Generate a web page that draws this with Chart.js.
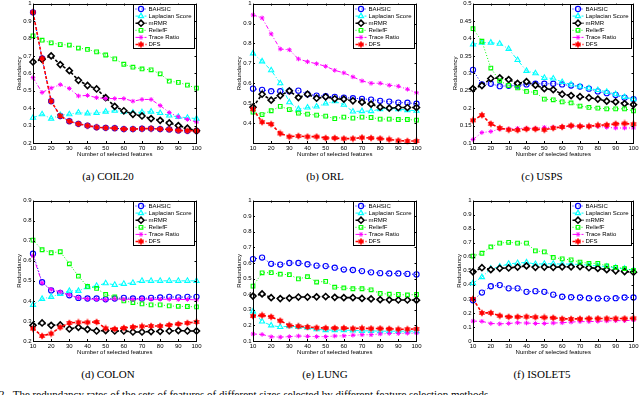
<!DOCTYPE html>
<html>
<head>
<meta charset="utf-8">
<script src="https://cdn.jsdelivr.net/npm/chart.js@4.4.1/dist/chart.umd.min.js"></script>
<style>
html, body { margin:0; padding:0; background:#fff; width:640px; height:395px; overflow:hidden; position:relative; }
canvas { position:absolute; }
.cap { position:absolute; font-family:"Liberation Serif","Times New Roman",serif; font-size:11px; line-height:12px; color:#000; white-space:nowrap; transform:translateX(-50%); }
.foot { position:absolute; left:-1px; top:388px; font-family:"Liberation Serif","Times New Roman",serif; font-size:11px; line-height:12px; white-space:nowrap; }
</style>
</head>
<body>
<div class="foot">2.&nbsp;&nbsp;The redundancy rates of the sets of features of different sizes selected by different feature selection methods.</div>
<script>
// number of selected features (x axis)
const sizes = [10,15,20,25,30,35,40,45,50,55,60,65,70,75,80,85,90,95,100];
const methods = ['BAHSIC','Laplacian Score','mRMR','ReliefF','Trace Ratio','DFS'];

// (a) COIL20
const coilBahsic    = [0.95,0.685,0.44,0.355,0.325,0.31,0.30,0.29,0.287,0.285,0.28,0.28,0.282,0.283,0.28,0.278,0.272,0.27,0.27];
const coilLaplacian = [0.345,0.365,0.34,0.36,0.365,0.375,0.37,0.372,0.38,0.385,0.38,0.375,0.377,0.38,0.372,0.358,0.35,0.345,0.34];
const coilMrmr      = [0.665,0.68,0.70,0.65,0.615,0.56,0.53,0.51,0.46,0.41,0.385,0.365,0.355,0.34,0.33,0.315,0.30,0.285,0.27];
const coilRelief    = [0.815,0.79,0.775,0.765,0.762,0.745,0.737,0.723,0.705,0.683,0.652,0.635,0.625,0.62,0.597,0.555,0.548,0.532,0.515];
const coilTrace     = [0.575,0.49,0.515,0.535,0.513,0.47,0.473,0.46,0.455,0.455,0.455,0.44,0.45,0.45,0.415,0.375,0.35,0.335,0.32];
const coilDfs       = [0.95,0.685,0.44,0.355,0.325,0.31,0.30,0.29,0.287,0.285,0.28,0.28,0.282,0.283,0.28,0.278,0.272,0.27,0.27];

// (b) ORL
const orlBahsic    = [0.573,0.567,0.56,0.56,0.56,0.563,0.545,0.538,0.535,0.532,0.528,0.525,0.522,0.518,0.512,0.508,0.503,0.502,0.497];
const orlLaplacian = [0.75,0.71,0.665,0.60,0.505,0.47,0.478,0.483,0.498,0.51,0.492,0.458,0.46,0.46,0.47,0.475,0.47,0.465,0.462];
const orlMrmr      = [0.48,0.545,0.515,0.538,0.562,0.528,0.545,0.525,0.532,0.522,0.52,0.512,0.505,0.495,0.48,0.475,0.478,0.478,0.478];
const orlRelief    = [0.455,0.443,0.462,0.484,0.468,0.45,0.445,0.44,0.435,0.422,0.43,0.425,0.43,0.428,0.42,0.42,0.418,0.418,0.415];
const orlTrace     = [0.943,0.928,0.848,0.772,0.768,0.722,0.708,0.698,0.685,0.665,0.652,0.632,0.612,0.60,0.60,0.59,0.585,0.57,0.552];
const orlDfs       = [0.47,0.405,0.395,0.348,0.332,0.335,0.332,0.332,0.325,0.325,0.322,0.322,0.327,0.325,0.322,0.318,0.312,0.31,0.31];

// (c) USPS
const uspsBahsic    = [0.31,0.268,0.27,0.263,0.264,0.265,0.268,0.27,0.27,0.27,0.268,0.265,0.262,0.256,0.248,0.243,0.238,0.23,0.226];
const uspsLaplacian = [0.383,0.388,0.388,0.385,0.37,0.338,0.307,0.30,0.287,0.285,0.275,0.268,0.262,0.257,0.252,0.247,0.24,0.232,0.226];
const uspsMrmr      = [0.256,0.265,0.285,0.287,0.282,0.271,0.276,0.266,0.256,0.253,0.24,0.236,0.233,0.23,0.226,0.22,0.218,0.213,0.21];
const uspsRelief    = [0.428,0.392,0.315,0.278,0.265,0.258,0.248,0.245,0.226,0.224,0.218,0.215,0.206,0.202,0.20,0.198,0.198,0.198,0.192];
const uspsTrace     = [0.11,0.13,0.133,0.14,0.14,0.142,0.142,0.142,0.145,0.145,0.146,0.148,0.148,0.148,0.148,0.145,0.143,0.143,0.143];
const uspsDfs       = [0.165,0.18,0.155,0.143,0.138,0.137,0.14,0.14,0.138,0.143,0.146,0.15,0.148,0.148,0.151,0.152,0.155,0.156,0.154];

// (d) COLON
const colonBahsic    = [0.635,0.493,0.452,0.44,0.428,0.415,0.412,0.412,0.408,0.412,0.415,0.412,0.412,0.415,0.417,0.42,0.418,0.42,0.42];
const colonLaplacian = [0.38,0.41,0.42,0.435,0.45,0.45,0.468,0.475,0.488,0.48,0.485,0.49,0.50,0.50,0.50,0.50,0.50,0.50,0.50];
const colonMrmr      = [0.278,0.29,0.278,0.28,0.26,0.268,0.258,0.25,0.252,0.25,0.25,0.245,0.245,0.247,0.248,0.25,0.252,0.25,0.25];
const colonRelief    = [0.703,0.655,0.64,0.645,0.585,0.523,0.472,0.462,0.432,0.42,0.40,0.392,0.385,0.38,0.38,0.375,0.373,0.372,0.37];
const colonTrace     = [0.625,0.49,0.457,0.445,0.43,0.415,0.41,0.408,0.405,0.41,0.408,0.408,0.41,0.408,0.408,0.408,0.407,0.407,0.405];
const colonDfs       = [0.262,0.225,0.237,0.268,0.29,0.293,0.293,0.295,0.263,0.26,0.265,0.27,0.273,0.275,0.275,0.28,0.285,0.29,0.295];

// (e) LUNG
const lungBahsic    = [0.625,0.635,0.595,0.59,0.60,0.60,0.592,0.583,0.58,0.57,0.558,0.555,0.548,0.54,0.535,0.533,0.533,0.53,0.527];
const lungLaplacian = [0.29,0.225,0.20,0.19,0.195,0.19,0.185,0.175,0.17,0.17,0.17,0.168,0.165,0.165,0.163,0.163,0.163,0.163,0.163];
const lungMrmr      = [0.388,0.402,0.378,0.372,0.375,0.382,0.382,0.383,0.385,0.38,0.378,0.378,0.373,0.37,0.365,0.364,0.363,0.363,0.362];
const lungRelief    = [0.452,0.537,0.538,0.528,0.525,0.498,0.512,0.478,0.482,0.445,0.44,0.435,0.435,0.428,0.405,0.40,0.398,0.395,0.398];
const lungTrace     = [0.145,0.142,0.127,0.125,0.128,0.132,0.13,0.128,0.128,0.132,0.133,0.137,0.14,0.14,0.145,0.148,0.148,0.15,0.15];
const lungDfs       = [0.26,0.265,0.255,0.23,0.20,0.195,0.19,0.185,0.183,0.183,0.183,0.18,0.182,0.18,0.18,0.178,0.175,0.176,0.177];

// (f) ISOLET5
const isoBahsic    = [0.29,0.345,0.39,0.398,0.375,0.375,0.35,0.355,0.35,0.33,0.315,0.312,0.31,0.305,0.303,0.302,0.305,0.31,0.31];
const isoLaplacian = [0.412,0.455,0.515,0.53,0.55,0.555,0.56,0.548,0.55,0.55,0.548,0.548,0.545,0.54,0.535,0.53,0.522,0.515,0.505];
const isoMrmr      = [0.493,0.522,0.508,0.518,0.52,0.527,0.535,0.525,0.527,0.525,0.528,0.528,0.53,0.522,0.517,0.508,0.50,0.495,0.49];
const isoRelief    = [0.605,0.625,0.67,0.697,0.703,0.697,0.697,0.642,0.635,0.595,0.585,0.578,0.562,0.553,0.553,0.535,0.525,0.515,0.503];
const isoTrace     = [0.142,0.14,0.125,0.122,0.125,0.13,0.128,0.125,0.125,0.128,0.13,0.135,0.138,0.138,0.14,0.143,0.145,0.145,0.148];
const isoDfs       = [0.30,0.20,0.20,0.18,0.172,0.172,0.173,0.17,0.168,0.165,0.158,0.157,0.158,0.16,0.16,0.16,0.16,0.16,0.162];

// y axis ranges [min, max, step]
const coilY = [0.2, 1, 0.1];
const orlY = [0.3, 1, 0.1];
const uspsY = [0.1, 0.5, 0.05];
const colonY = [0.2, 0.9, 0.1];
const lungY = [0.1, 1, 0.1];
const isoY = [0, 1, 0.1];

Chart.defaults.font.family = '"Liberation Sans", Arial, Helvetica, sans-serif';
Chart.defaults.color = '#000';

// filled red hexagram marker like matlab 'h'
function hexagram(color, size) {
  const c = document.createElement('canvas');
  c.width = size; c.height = size;
  const g = c.getContext('2d');
  const cx = size / 2, cy = size / 2, r = size / 2 - 0.3;
  g.fillStyle = color;
  [-Math.PI / 2, Math.PI / 2].forEach(rot => {
    g.beginPath();
    for (let k = 0; k < 3; k++) {
      const a = rot + k * 2 * Math.PI / 3;
      const px = cx + r * Math.cos(a), py = cy + r * Math.sin(a);
      if (k === 0) g.moveTo(px, py); else g.lineTo(px, py);
    }
    g.closePath();
    g.fill();
  });
  return c;
}
const hexRed = hexagram('#ff0000', 8);

const styles = [
  { borderColor:'#0000ff', borderWidth:1,   borderDash:[1,2],     pointStyle:'circle',   pointRadius:2.6, pointBorderWidth:1.1, pointBackgroundColor:'rgba(0,0,0,0)' },
  { borderColor:'#00ffff', borderWidth:1,   borderDash:[4,2,1,2], pointStyle:'triangle', pointRadius:3,   pointBorderWidth:1.1, pointBackgroundColor:'rgba(0,0,0,0)' },
  { borderColor:'#000000', borderWidth:1.6, borderDash:[3,2],     pointStyle:'rectRot',  pointRadius:3,   pointBorderWidth:1.6, pointBackgroundColor:'#ffffff' },
  { borderColor:'#00ff00', borderWidth:1,   borderDash:[1,2],     pointStyle:'rect',     pointRadius:2.6, pointBorderWidth:1.1, pointBackgroundColor:'rgba(0,0,0,0)' },
  { borderColor:'#ff00ff', borderWidth:1,   borderDash:[4,2,1,2], pointStyle:'star',     pointRadius:2.3, pointBorderWidth:1,   pointBackgroundColor:'#ff00ff' },
  { borderColor:'#ff0000', borderWidth:1.6, borderDash:[3,2],     pointStyle:hexRed,     pointRadius:4,   pointBorderWidth:1,   pointBackgroundColor:'#ff0000' }
];

const panels = [
  { series:[coilBahsic,coilLaplacian,coilMrmr,coilRelief,coilTrace,coilDfs],         y:coilY,  l:33,  t:3,   r:197, b:143, yw:17, cap:'(a) COIL20',  cx:108 },
  { series:[orlBahsic,orlLaplacian,orlMrmr,orlRelief,orlTrace,orlDfs],               y:orlY,   l:253, t:3,   r:417, b:143, yw:17, cap:'(b) ORL',     cx:325, hideMin:true },
  { series:[uspsBahsic,uspsLaplacian,uspsMrmr,uspsRelief,uspsTrace,uspsDfs],         y:uspsY,  l:473, t:3,   r:634, b:143, yw:21, cap:'(c) USPS',    cx:542 },
  { series:[colonBahsic,colonLaplacian,colonMrmr,colonRelief,colonTrace,colonDfs],   y:colonY, l:33,  t:200, r:197, b:341, yw:17, cap:'(d) COLON',   cx:108 },
  { series:[lungBahsic,lungLaplacian,lungMrmr,lungRelief,lungTrace,lungDfs],         y:lungY,  l:253, t:200, r:417, b:341, yw:17, cap:'(e) LUNG',    cx:325 },
  { series:[isoBahsic,isoLaplacian,isoMrmr,isoRelief,isoTrace,isoDfs],               y:isoY,   l:473, t:200, r:634, b:341, yw:17, cap:'(f) ISOLET5', cx:542 }
];

// matlab style box with inward ticks, drawn over the lines
const boxAxes = {
  id: 'boxAxes',
  afterDatasetsDraw(chart) {
    const ctx = chart.ctx, a = chart.chartArea;
    const xs = chart.scales.x, ys = chart.scales.y;
    ctx.save();
    ctx.strokeStyle = '#000';
    ctx.lineWidth = 1;
    ctx.setLineDash([]);
    ctx.strokeRect(Math.round(a.left) + 0.5, Math.round(a.top) + 0.5, Math.round(a.right - a.left), Math.round(a.bottom - a.top));
    ctx.beginPath();
    xs.ticks.forEach(t => {
      const px = Math.round(xs.getPixelForValue(t.value)) + 0.5;
      ctx.moveTo(px, a.bottom); ctx.lineTo(px, a.bottom - 2);
      ctx.moveTo(px, a.top); ctx.lineTo(px, a.top + 2);
    });
    ys.ticks.forEach(t => {
      const py = Math.round(ys.getPixelForValue(t.value)) + 0.5;
      ctx.moveTo(a.left, py); ctx.lineTo(a.left + 2, py);
      ctx.moveTo(a.right, py); ctx.lineTo(a.right - 2, py);
    });
    ctx.stroke();
    ctx.restore();
  }
};

// legend box in the upper right corner of the axes
const boxLegend = {
  id: 'boxLegend',
  afterDraw(chart) {
    const ctx = chart.ctx, a = chart.chartArea;
    const ds = chart.data.datasets;
    ctx.save();
    ctx.font = '6px "Liberation Sans", Arial, sans-serif';
    const tw = Math.max(...ds.map(d => ctx.measureText(d.label).width));
    const w = Math.round(tw + 18), h = 44;
    const x0 = Math.round(a.right - 2 - w) + 0.5, y0 = Math.round(a.top) + 0.5;
    ctx.fillStyle = '#fff';
    ctx.fillRect(x0, y0, w, h);
    ctx.strokeStyle = '#000';
    ctx.lineWidth = 1;
    ctx.strokeRect(x0, y0, w, h);
    ds.forEach((d, i) => {
      const y = y0 + 4.5 + i * 7.1;
      ctx.save();
      ctx.strokeStyle = d.borderColor;
      ctx.lineWidth = d.borderWidth;
      ctx.setLineDash(d.borderDash);
      ctx.beginPath();
      ctx.moveTo(x0 + 2, y); ctx.lineTo(x0 + 13, y);
      ctx.stroke();
      ctx.setLineDash([]);
      ctx.strokeStyle = d.borderColor;
      ctx.fillStyle = d.pointBackgroundColor;
      ctx.lineWidth = d.pointBorderWidth;
      Chart.helpers.drawPoint(ctx, { pointStyle: d.pointStyle, radius: d.pointRadius, rotation: 0, borderWidth: d.pointBorderWidth }, x0 + 7.5, y);
      ctx.restore();
      ctx.fillStyle = '#000';
      ctx.textBaseline = 'middle';
      ctx.fillText(d.label, x0 + 15, y);
    });
    ctx.restore();
  }
};

panels.forEach(p => {
  const padTop = 5, padRight = 6, xh = 17;
  const cv = document.createElement('canvas');
  const W = (p.r - p.l) + p.yw + padRight, H = (p.b - p.t) + padTop + xh;
  cv.width = W; cv.height = H;
  cv.style.left = (p.l - p.yw) + 'px';
  cv.style.top = (p.t - padTop) + 'px';
  cv.style.width = W + 'px'; cv.style.height = H + 'px';
  document.body.appendChild(cv);

  const cap = document.createElement('div');
  cap.className = 'cap';
  cap.textContent = p.cap;
  cap.style.left = p.cx + 'px';
  cap.style.top = (p.b + 27) + 'px';
  document.body.appendChild(cap);

  const [yMin, yMax, yStep] = p.y;
  const datasets = p.series.map((vals, i) => Object.assign({
    label: methods[i],
    data: sizes.map((s, k) => ({ x: s, y: vals[k] })),
    fill: false,
    tension: 0,
    clip: false,
    order: 5 - i
  }, styles[i]));

  new Chart(cv.getContext('2d'), {
    type: 'line',
    data: { datasets },
    options: {
      responsive: false,
      devicePixelRatio: 1,
      animation: false,
      events: [],
      layout: { padding: { left: 0, top: padTop, right: padRight, bottom: 0 } },
      plugins: { legend: { display: false }, tooltip: { enabled: false } },
      scales: {
        x: {
          type: 'linear', min: 10, max: 100,
          grid: { display: false, drawTicks: false }, border: { display: false },
          ticks: { stepSize: 10, autoSkip: false, maxRotation: 0, padding: 1.5, font: { size: 6 } },
          title: { display: true, text: 'Number of selected features', font: { size: 6 }, padding: { top: 0, bottom: 2 } },
          afterFit(s) { s.height = xh; }
        },
        y: {
          min: yMin, max: yMax,
          grid: { display: false, drawTicks: false }, border: { display: false },
          ticks: {
            stepSize: yStep, padding: 1.5, font: { size: 6 },
            callback: v => (p.hideMin && Math.abs(v - yMin) < 1e-9) ? '' : String(+v.toFixed(2))
          },
          title: { display: true, text: 'Redundancy', font: { size: 6 }, padding: { top: 0, bottom: 0 } },
          afterFit(s) { s.width = p.yw; }
        }
      }
    },
    plugins: [boxAxes, boxLegend]
  });
});
</script>
</body>
</html>
